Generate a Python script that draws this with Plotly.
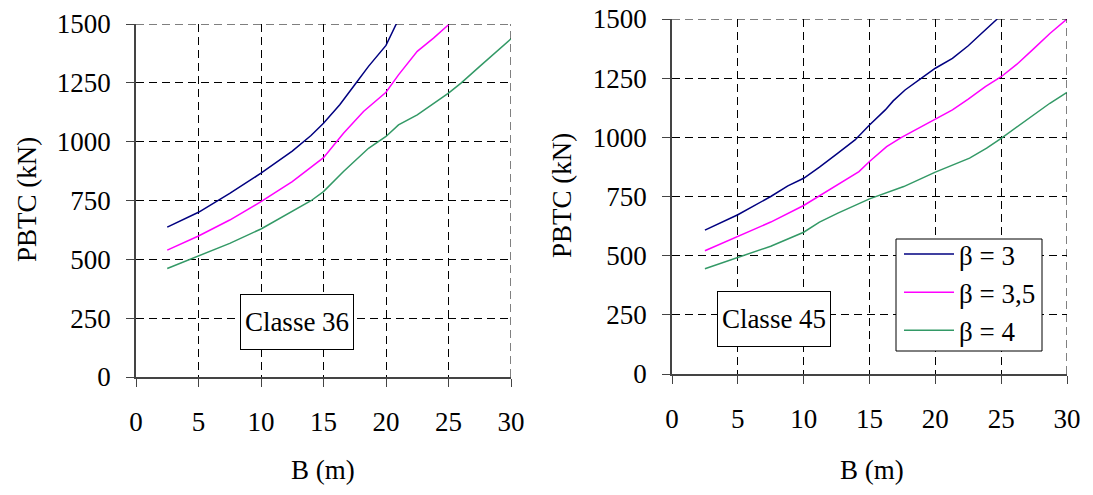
import plotly.graph_objects as go

# ---- data ----
# Classe 36 (left)
x36_b3 = [2.5, 5, 7.5, 10, 12.5, 14, 15, 16.3, 17.5, 18.6, 20, 21]
y36_b3 = [637, 700, 780, 866, 960, 1026, 1078, 1157, 1242, 1320, 1409, 1520]
x36_b35 = [2.5, 5, 7.5, 10, 12.5, 15, 16.6, 18.2, 20, 21, 22.5, 23.8, 25]
y36_b35 = [539, 599, 667, 745, 830, 932, 1036, 1128, 1210, 1284, 1384, 1440, 1497]
x36_b4 = [2.5, 5, 7.5, 10, 14, 15, 16.6, 18.6, 20, 21, 22.5, 25, 26, 27.5, 30]
y36_b4 = [461, 515, 568, 629, 749, 788, 873, 972, 1022, 1071, 1114, 1206, 1249, 1320, 1437]

# Classe 45 (right)
x45_b3 = [2.5, 5, 7.5, 8.8, 10, 11.2, 12.6, 13.9, 15, 16.2, 16.8, 17.7, 19, 20, 21.3, 22.5, 23.5, 24.7]
y45_b3 = [608, 673, 750, 795, 827, 874, 933, 989, 1052, 1116, 1154, 1200, 1252, 1292, 1334, 1387, 1439, 1500]
x45_b35 = [2.5, 5, 7.5, 10, 12.6, 14.2, 15, 16.3, 17.4, 18.8, 20, 21.3, 22.5, 23.8, 25, 26.2, 27.5, 28.7, 30]
y45_b35 = [521, 581, 642, 712, 799, 855, 898, 961, 999, 1041, 1078, 1116, 1161, 1214, 1256, 1309, 1376, 1439, 1500]
x45_b4 = [2.5, 5, 7.5, 10, 11.2, 12.6, 15, 17.6, 20, 22.6, 23.9, 25, 26.2, 27.5, 28.7, 30]
y45_b4 = [445, 492, 540, 599, 642, 680, 740, 792, 853, 912, 954, 996, 1045, 1095, 1144, 1190]

legend_names = ["β = 3", "β = 3,5", "β = 4"]
colors = ["#000080", "#FF00FF", "#339966"]
x_ticks = [0, 5, 10, 15, 20, 25, 30]
y_ticks = [0, 250, 500, 750, 1000, 1250, 1500]

FONT = "Liberation Serif, Times New Roman, serif"
FS = 27

fig = go.Figure()

left = [(x36_b3, y36_b3), (x36_b35, y36_b35), (x36_b4, y36_b4)]
right = [(x45_b3, y45_b3), (x45_b35, y45_b35), (x45_b4, y45_b4)]

for i, (xs, ys) in enumerate(left):
    fig.add_trace(go.Scatter(x=xs, y=ys, mode="lines", line=dict(color=colors[i], width=1.5),
                             showlegend=False, xaxis="x", yaxis="y"))
for i, (xs, ys) in enumerate(right):
    fig.add_trace(go.Scatter(x=xs, y=ys, mode="lines", line=dict(color=colors[i], width=1.5),
                             name=legend_names[i], showlegend=True, xaxis="x2", yaxis="y2"))

# body margin removed via post_script, figure fills the window
W, H = 1093, 495
def px_x(p):
    return p / W
def px_y(p):
    return 1 - p / H

axis_common = dict(
    showgrid=True, gridcolor="black", gridwidth=1, griddash="8px,5px",
    showline=True, linecolor="#444", linewidth=1.5,
    ticks="outside", ticklen=8, tickcolor="#444", tickwidth=1,
    tickfont=dict(family=FONT, size=FS, color="black"),
    zeroline=False, fixedrange=True, automargin=False,
    ticklabeloverflow="allow",
)

fig.update_layout(
    width=W, height=H,
    margin=dict(l=0, r=0, t=0, b=0, autoexpand=False),
    paper_bgcolor="white", plot_bgcolor="white",
    font=dict(family=FONT, size=FS, color="black"),
    xaxis=dict(domain=[px_x(136), px_x(511)], range=[0, 30], tickvals=x_ticks,
               anchor="y", ticklabelstandoff=12, **axis_common),
    yaxis=dict(domain=[px_y(377), px_y(24)], range=[0, 1500], tickvals=y_ticks,
               anchor="x", ticklabelstandoff=10, **axis_common),
    xaxis2=dict(domain=[px_x(672), px_x(1067)], range=[0, 30], tickvals=x_ticks,
                anchor="y2", ticklabelstandoff=12, **axis_common),
    yaxis2=dict(domain=[px_y(374), px_y(19)], range=[0, 1500], tickvals=y_ticks,
                anchor="x2", ticklabelstandoff=10, **axis_common),
    legend=dict(x=px_x(899), y=px_y(230), xanchor="left", yanchor="top",
                bgcolor="rgba(0,0,0,0)", borderwidth=0,
                font=dict(family=FONT, size=FS, color="black"),
                tracegroupgap=0, itemwidth=50),
    showlegend=True,
)

# top/right dashed edges (gridlines at range ends)
for xa, ya in [("x", "y"), ("x2", "y2")]:
    fig.add_shape(type="line", xref=xa, yref=ya, x0=0, x1=30, y0=1500, y1=1500,
                  line=dict(color="black", width=1, dash="8px,5px"))
    fig.add_shape(type="line", xref=xa, yref=ya, x0=30, x1=30, y0=0, y1=1500,
                  line=dict(color="black", width=1, dash="8px,5px"))

# legend frame
fig.add_shape(type="rect", xref="paper", yref="paper",
              x0=px_x(896), x1=px_x(1042), y0=px_y(351), y1=px_y(239),
              fillcolor="white", line=dict(color="black", width=1), layer="above")

def ann(text, x, y, **kw):
    d = dict(text=text, x=px_x(x), y=px_y(y), xref="paper", yref="paper",
             xanchor="center", yanchor="middle", showarrow=False,
             font=dict(family=FONT, size=FS, color="black"))
    d.update(kw)
    return d

annots = [
    ann("Classe 36", 296.5, 322, bgcolor="white", bordercolor="black", borderwidth=1,
        width=110, height=52),
    ann("Classe 45", 774, 319, bgcolor="white", bordercolor="black", borderwidth=1,
        width=110, height=52),
    ann("PBTC (kN)", 27, 200, textangle=-90),
    ann("PBTC (kN)", 562, 196, textangle=-90),
    ann("B (m)", 323, 470),
    ann("B (m)", 872, 470),
]
fig.update_layout(annotations=annots)

fig.write_html("out.html", config={"displayModeBar": False},
               post_script="document.body.style.margin='0';document.body.style.overflow='hidden';")
